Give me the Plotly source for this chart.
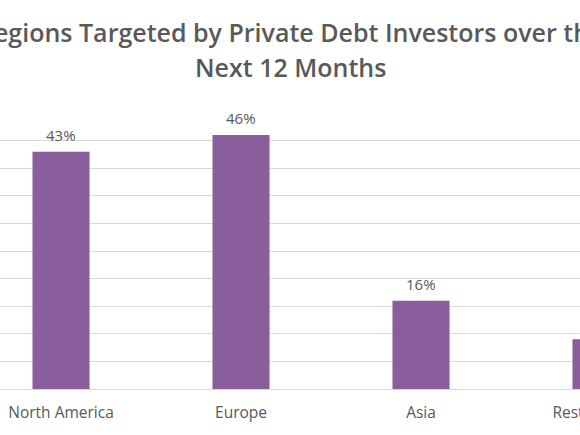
import plotly.graph_objects as go

categories = ["North America", "Europe", "Asia", "Rest of World"]
values = [43, 46, 16, 9]
value_labels = ["43%", "46%", "16%", "9%"]
title_line1 = "Regions Targeted by Private Debt Investors over the"
title_line2 = "Next 12 Months"

BAR = "#8A5D9C"
TXT = "#595959"
GRID = "#D9D9D9"
FONT = "Open Sans"

FIG_W = 691          # the original chart is wider than the visible window
FIG_H = 435
TITLE_CX = 290       # title centre in pixels

fig = go.Figure(go.Bar(
    x=categories, y=values, cliponaxis=True,
    marker=dict(color=BAR, line=dict(width=0)),
    hoverinfo="skip",
))

# value labels above the bars
for cat, val, lab in zip(categories, values, value_labels):
    fig.add_annotation(text=lab, x=cat, y=val, xref="x", yref="y",
                       xanchor="center", yanchor="bottom", yshift=5,
                       showarrow=False,
                       font=dict(family=FONT, size=15, color=TXT))

fig.update_layout(
    width=FIG_W, height=FIG_H,
    template="none",
    paper_bgcolor="white", plot_bgcolor="white",
    margin=dict(l=0, r=0, t=113, b=46, pad=0),
    bargap=0.683,
    showlegend=False,
    font=dict(family=FONT, color=TXT),
)

fig.add_annotation(text=title_line1, xref="paper", yref="paper",
                   x=TITLE_CX / FIG_W, y=1, xanchor="center", yanchor="bottom",
                   yshift=62, showarrow=False,
                   font=dict(family=FONT, size=25, color=TXT, weight=600))
fig.add_annotation(text=title_line2, xref="paper", yref="paper",
                   x=TITLE_CX / FIG_W, y=1, xanchor="center", yanchor="bottom",
                   yshift=27, showarrow=False,
                   font=dict(family=FONT, size=25, color=TXT, weight=600))

fig.update_xaxes(
    type="category", range=[-0.339, 3.5],
    showgrid=False, showline=True, linecolor=GRID, linewidth=1,
    ticks="", ticklabelstandoff=9, automargin=False,
    tickfont=dict(family=FONT, size=15.5, color=TXT),
)
fig.update_yaxes(
    range=[0, 50], dtick=5, showgrid=True, gridcolor=GRID, gridwidth=1,
    zeroline=False, showticklabels=False, ticks="", automargin=False,
)

fig.write_html(
    "out.html",
    config={"displayModeBar": False},
    post_script="document.body.style.margin='0';"
                "document.body.style.overflow='hidden';"
                "document.documentElement.style.overflow='hidden';",
)
